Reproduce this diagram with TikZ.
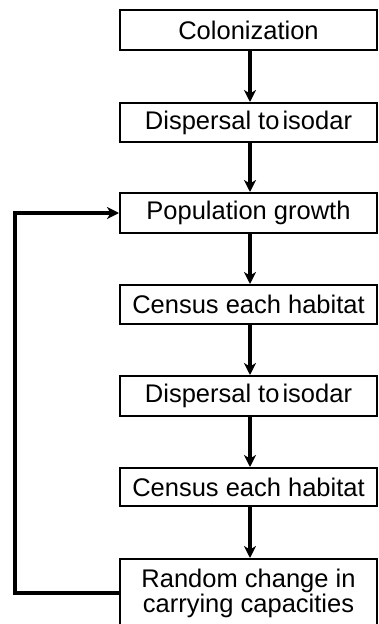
\documentclass[tikz,border=0pt]{standalone}
\usepackage{fontspec}
\setmainfont{Liberation Sans}
\usetikzlibrary{arrows.meta}
\begin{document}
\begin{tikzpicture}[x=1pt,y=1pt,
  box/.style={draw,line width=2pt,minimum width=257pt,minimum height=40pt,inner sep=0pt,
    font=\fontsize{25.5}{25}\selectfont,align=center},
  flow/.style={line width=3.2pt,-{Stealth[length=12pt,width=12pt,inset=3.5pt]}}]
\useasboundingbox (0,0) rectangle (378,-624);
\clip (0,0) rectangle (378,-624);
\node[box] (b1) at (248.5,-30) {Colonization};
\node[box,minimum height=39pt] (b2) at (248.5,-122.5) {Dispersal to\hspace{0.12em}isodar};
\node[box] (b3) at (248.5,-213) {Population growth};
\node[box,minimum height=39pt] (b4) at (248.5,-304.5) {Census each habitat};
\node[box] (b5) at (248.5,-396) {Dispersal to\hspace{0.12em}isodar};
\node[box,minimum height=38pt] (b6) at (248.5,-487) {Census each habitat};
\node[box,minimum height=68pt] (b7) at (248.5,-593) {Random change in\\carrying capacities};
\draw[flow] (b1.south -| 250,0) -- (b2.north -| 250,0);
\draw[flow] (b2.south -| 250,0) -- (b3.north -| 250,0);
\draw[flow] (b3.south -| 250,0) -- (b4.north -| 250,0);
\draw[flow] (b4.south -| 250,0) -- (b5.north -| 250,0);
\draw[flow] (b5.south -| 250,0) -- (b6.north -| 250,0);
\draw[flow] (b6.south -| 250,0) -- (b7.north -| 250,0);
\coordinate (lc) at (15,-593);
\draw[flow] (b7.west) -- (lc) |- (b3.west);
\end{tikzpicture}
\end{document}
